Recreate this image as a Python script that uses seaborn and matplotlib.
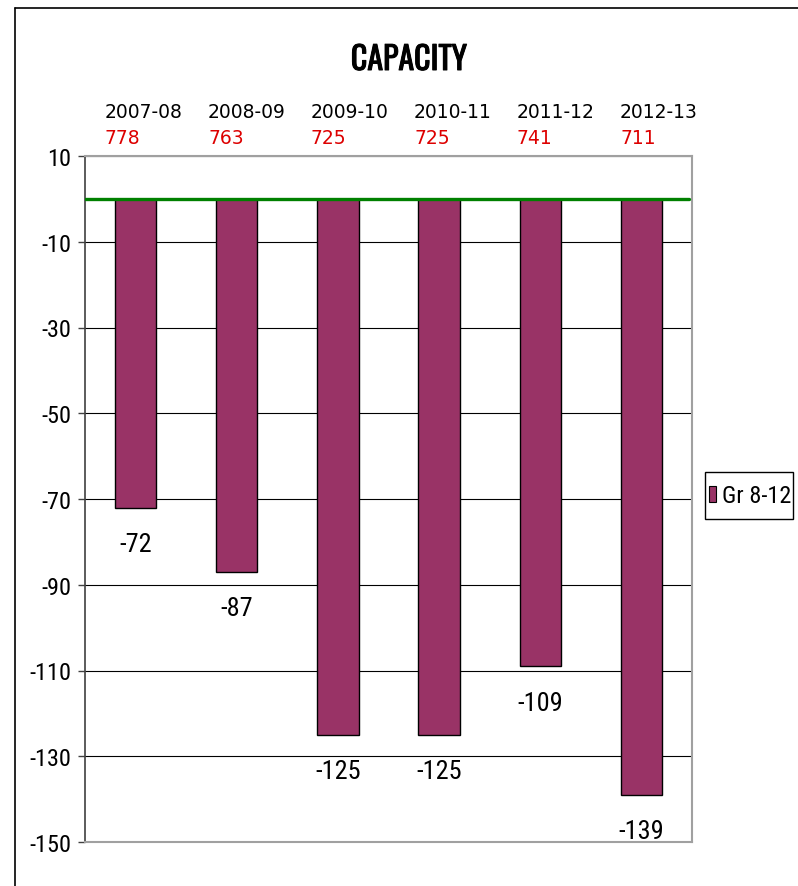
import matplotlib
matplotlib.use("Agg")
import matplotlib.pyplot as plt
import matplotlib.patheffects as pe
import seaborn as sns
import pandas as pd
from matplotlib.patches import Patch, Rectangle
from matplotlib.lines import Line2D

# data
seasons = ['2007-08', '2008-09', '2009-10', '2010-11', '2011-12', '2012-13']
capacity = [778, 763, 725, 725, 741, 711]
diff = [-72, -87, -125, -125, -109, -139]
yticks = [10, -10, -30, -50, -70, -90, -110, -130, -150]
series_name = 'Gr 8-12'

sns.set_theme(style='white')
narrow = ['Roboto Condensed', 'DejaVu Sans']
plt.rcParams['font.family'] = narrow
plt.rcParams['text.color'] = 'black'

df = pd.DataFrame({'season': seasons, 'diff': diff})

fig = plt.figure(figsize=(7.98, 8.87), dpi=100)
ax = fig.add_axes([85 / 798, 1 - 843 / 887, (692 - 85) / 798, (843 - 157) / 887])

sns.barplot(data=df, x='season', y='diff', color='#993366', width=0.41,
            edgecolor='black', linewidth=1.0, saturation=1, ax=ax, zorder=3)

ax.set_ylim(-150, 10)
ax.set_xlim(-0.5, 5.5)
ax.set_yticks(yticks)
ax.set_yticklabels([str(t) for t in yticks], fontsize=17.5, family=narrow, color='black')
ax.set_xticks([])
ax.set_xlabel('')
ax.set_ylabel('')
ax.tick_params(axis='y', left=True, length=5, width=1, color='#404040', pad=5)
ax.yaxis.grid(True, color='black', linewidth=0.8, zorder=0)
ax.set_axisbelow(True)

for side in ['top', 'right', 'bottom']:
    ax.spines[side].set_color('#a0a0a0')
    ax.spines[side].set_linewidth(1.5)
ax.spines['left'].set_color('#404040')
ax.spines['left'].set_linewidth(1.2)

ax.axhline(0, color='#008000', linewidth=2.4, zorder=4, xmax=0.995)

# value labels below the bars
for i, v in enumerate(diff):
    ax.text(i, v - 8.5, str(v), ha='center', va='center', fontsize=19,
            family=narrow, color='black')

# season and capacity labels above the plot
for i, (s, c) in enumerate(zip(seasons, capacity)):
    x0 = (105 + 103 * i) / 798
    fig.text(x0, 1 - 112 / 887, s, ha='left', va='center', fontsize=13.5,
             family='DejaVu Sans', color='black')
    fig.text(x0, 1 - 138 / 887, str(c), ha='left', va='center', fontsize=13.5,
             family='DejaVu Sans', color='#dd0000')

title = fig.text(409 / 798, 1 - 61 / 887, 'CAPACITY', ha='center', va='center',
                 fontsize=23, family=['Oswald', 'DejaVu Sans'], color='black')
title.set_path_effects([pe.withStroke(linewidth=0.7, foreground='black')])

# legend, with its box drawn separately so it can be taller than the entry
handles = [Patch(facecolor='#993366', edgecolor='black', linewidth=0.8)]
leg = fig.legend(handles=handles, labels=[series_name], loc='center',
                 bbox_to_anchor=(750 / 798, 1 - 497 / 887),
                 handlelength=0.3, handleheight=0.6, handletextpad=0.25,
                 borderpad=0.3, borderaxespad=0, frameon=False,
                 prop={'family': narrow, 'size': 17.5})
fig.add_artist(Rectangle((705 / 798, 1 - 520 / 887), 88 / 798, 47 / 887,
                         facecolor='none', edgecolor='black', linewidth=1.0,
                         transform=fig.transFigure))

# outer chart border
fig.add_artist(Line2D([15 / 798, 1], [1 - 9 / 887, 1 - 9 / 887], color='black', linewidth=1.2))
fig.add_artist(Line2D([15 / 798, 15 / 798], [0, 1 - 9 / 887], color='black', linewidth=1.2))

fig.savefig('out.png', dpi=100)
